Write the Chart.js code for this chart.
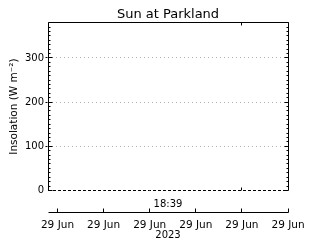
<!DOCTYPE html>
<html><head><meta charset="utf-8">
<script src="https://cdn.jsdelivr.net/npm/chart.js@4/dist/chart.umd.min.js"></script>
<style>html,body{margin:0;padding:0;background:#fff}</style>
</head><body>
<canvas id="c" width="320" height="240"></canvas>
<script>
// ---- data ----
const times = [-0.206, 0, 1, 2, 3, 4, 5];          // time offsets (axis units)
const insolation = [0, 0, 0, 0, 0, 0, 0];          // W m^-2
const dateTicks = [0, 1, 2, 3, 4, 5];
const dateLabels = ['29 Jun', '29 Jun', '29 Jun', '29 Jun', '29 Jun', '29 Jun'];
const timeTicks = [4];
const timeLabel = '18:39';
const yearLabel = '2023';
const yTicks = [0, 100, 200, 300];
const yMinorTicks = [0,10,20,30,40,50,60,70,80,90,100,110,120,130,140,150,160,170,180,190,
                     200,210,220,230,240,250,260,270,280,290,300,310,320,330,340,350,360,370,380];
const xMin = -0.206, xMax = 5, yMin = 0, yMax = 380;

Chart.defaults.color = '#000';
Chart.defaults.font.family = 'DejaVu Sans';
Chart.defaults.font.size = 10;

const frame = {
  id: 'frame',
  afterDraw(chart) {
    const {ctx, chartArea: a, scales} = chart;
    const y = scales.y, x = scales.x, x2 = scales.x2;
    const P = v => Math.floor(v) + 0.5;
    ctx.save();
    ctx.strokeStyle = '#000';
    ctx.lineWidth = 1;
    ctx.beginPath();
    const L = P(a.left), R = P(a.right), T = P(a.top), B = a.bottom;
    ctx.moveTo(L, B); ctx.lineTo(L, T); ctx.lineTo(R, T); ctx.lineTo(R, B);
    yMinorTicks.forEach(v => {
      const py = P(y.getPixelForValue(v));
      const major = yTicks.includes(v);
      const len = major ? 4 : 2;
      ctx.moveTo(L, py); ctx.lineTo(L + len, py);
      ctx.moveTo(R, py); ctx.lineTo(R - len, py);
      if (major && v !== 0) { ctx.moveTo(L - 3, py); ctx.lineTo(L - 1, py); }
    });
    timeTicks.forEach(v => {
      const px = P(x.getPixelForValue(v));
      ctx.moveTo(px, T); ctx.lineTo(px, T + 3);
      ctx.moveTo(px, B); ctx.lineTo(px, B - 3);
    });
    const ay = P(x2.top);
    ctx.moveTo(P(x2.left), ay); ctx.lineTo(P(x2.right), ay);
    dateTicks.forEach(v => {
      const px = P(x2.getPixelForValue(v));
      ctx.moveTo(px, ay); ctx.lineTo(px, ay - 4);
    });
    ctx.stroke();
    ctx.restore();
  }
};

new Chart(document.getElementById('c'), {
  type: 'line',
  data: {
    datasets: [{
      data: times.map((t, i) => ({x: t, y: insolation[i]})),
      borderColor: '#000',
      borderWidth: 1,
      borderDash: [3, 2],
      pointRadius: 0,
      fill: false,
      tension: 0,
      clip: 2
    }]
  },
  options: {
    responsive: false,
    animation: false,
    devicePixelRatio: 1,
    layout: {padding: {left: 0, right: 32, top: 0, bottom: 0}},
    plugins: {
      legend: {display: false},
      tooltip: {enabled: false},
      title: {
        display: true,
        fullSize: false,
        text: 'Sun at Parkland',
        color: '#000',
        font: {family: 'DejaVu Sans', size: 13, weight: 'normal'},
        padding: {top: 7, bottom: 0}
      }
    },
    scales: {
      y: {
        type: 'linear',
        min: yMin, max: yMax,
        afterBuildTicks: s => { s.ticks = yTicks.map(v => ({value: v})); },
        afterFit: s => { s.width = 48; },
        border: {display: false, dash: [1, 3]},
        grid: {
          drawTicks: false,
          color: ctx => ctx.tick && ctx.tick.value === 0 ? 'rgba(0,0,0,0)' : '#b0b0b0',
          lineWidth: 1
        },
        ticks: {padding: 4, color: '#000', font: {size: 10}},
        title: {display: true, text: 'Insolation (W m\u207B\u00B2)', color: '#000',
                font: {size: 10.5}, padding: {top: 8, bottom: 0}}
      },
      x: {
        type: 'linear',
        position: 'bottom',
        min: xMin, max: xMax,
        afterBuildTicks: s => { s.ticks = timeTicks.map(v => ({value: v})); },
        afterFit: s => { s.height = 22; },
        border: {display: false},
        grid: {display: false, drawTicks: false},
        ticks: {display: false},
        title: {display: true, text: timeLabel, color: '#000', font: {size: 10},
                padding: {top: 0, bottom: 2}}
      },
      x2: {
        type: 'linear',
        position: 'bottom',
        min: xMin, max: xMax,
        afterBuildTicks: s => { s.ticks = dateTicks.map(v => ({value: v})); },
        afterFit: s => { s.height = 27.5; },
        border: {display: false},
        grid: {display: false, drawTicks: false},
        ticks: {padding: 6, color: '#000', font: {size: 10.5}, maxRotation: 0, autoSkip: false,
                callback: (v, i) => dateLabels[i]},
        title: {display: true, text: yearLabel, color: '#000', font: {size: 10, lineHeight: 1.0},
                padding: {top: 0, bottom: 0}}
      }
    }
  },
  plugins: [frame]
});
</script>
</body></html>
